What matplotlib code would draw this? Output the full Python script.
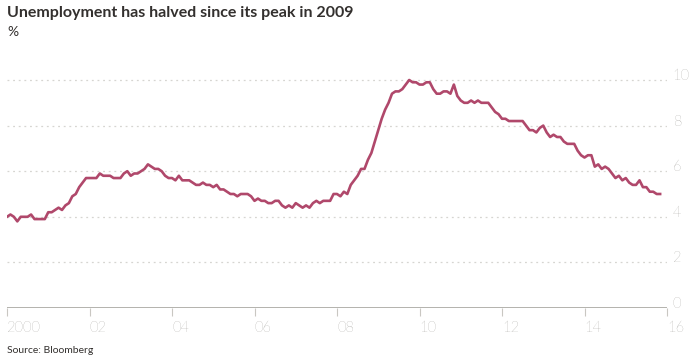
import numpy as np
import matplotlib.pyplot as plt

# US unemployment rate, monthly, Jan 2000 - Nov 2015 (%)
years = list(range(2000, 2016))
rate_by_year = {
    2000: [4.0, 4.1, 4.0, 3.8, 4.0, 4.0, 4.0, 4.1, 3.9, 3.9, 3.9, 3.9],
    2001: [4.2, 4.2, 4.3, 4.4, 4.3, 4.5, 4.6, 4.9, 5.0, 5.3, 5.5, 5.7],
    2002: [5.7, 5.7, 5.7, 5.9, 5.8, 5.8, 5.8, 5.7, 5.7, 5.7, 5.9, 6.0],
    2003: [5.8, 5.9, 5.9, 6.0, 6.1, 6.3, 6.2, 6.1, 6.1, 6.0, 5.8, 5.7],
    2004: [5.7, 5.6, 5.8, 5.6, 5.6, 5.6, 5.5, 5.4, 5.4, 5.5, 5.4, 5.4],
    2005: [5.3, 5.4, 5.2, 5.2, 5.1, 5.0, 5.0, 4.9, 5.0, 5.0, 5.0, 4.9],
    2006: [4.7, 4.8, 4.7, 4.7, 4.6, 4.6, 4.7, 4.7, 4.5, 4.4, 4.5, 4.4],
    2007: [4.6, 4.5, 4.4, 4.5, 4.4, 4.6, 4.7, 4.6, 4.7, 4.7, 4.7, 5.0],
    2008: [5.0, 4.9, 5.1, 5.0, 5.4, 5.6, 5.8, 6.1, 6.1, 6.5, 6.8, 7.3],
    2009: [7.8, 8.3, 8.7, 9.0, 9.4, 9.5, 9.5, 9.6, 9.8, 10.0, 9.9, 9.9],
    2010: [9.8, 9.8, 9.9, 9.9, 9.6, 9.4, 9.4, 9.5, 9.5, 9.4, 9.8, 9.3],
    2011: [9.1, 9.0, 9.0, 9.1, 9.0, 9.1, 9.0, 9.0, 9.0, 8.8, 8.6, 8.5],
    2012: [8.3, 8.3, 8.2, 8.2, 8.2, 8.2, 8.2, 8.0, 7.8, 7.8, 7.7, 7.9],
    2013: [8.0, 7.7, 7.5, 7.6, 7.5, 7.5, 7.3, 7.2, 7.2, 7.2, 6.9, 6.7],
    2014: [6.6, 6.7, 6.7, 6.2, 6.3, 6.1, 6.2, 6.1, 5.9, 5.7, 5.8, 5.6],
    2015: [5.7, 5.5, 5.4, 5.4, 5.6, 5.3, 5.3, 5.1, 5.1, 5.0, 5.0],
}
x_ticks = list(range(2000, 2017, 2))
x_labels = ['2000', '02', '04', '06', '08', '10', '12', '14', '16']
y_ticks = [0, 2, 4, 6, 8, 10]

dates = []
rates = []
for y in years:
    for m, v in enumerate(rate_by_year[y]):
        dates.append(y + m / 12)
        rates.append(v)

plt.rcParams['font.family'] = ['Lato', 'DejaVu Sans']
text_dark = '#33302e'
text_grey = '#7a7872'
line_col = '#b0486b'

fig = plt.figure(figsize=(6.9, 3.6), dpi=100)
ax = fig.add_axes([7 / 690, 52 / 360, 660 / 690, 239.4 / 360])

ax.plot(dates, rates, color=line_col, lw=1.9, solid_joinstyle='round')

ax.set_xlim(2000, 2016)
ax.set_ylim(0, 10.5)
ax.set_xticks(x_ticks)
ax.set_xticklabels(x_labels)
ax.set_yticks(y_ticks)
for t in y_ticks[1:]:
    ax.axhline(t, color='#d6d5d1', lw=0.9, ls=(0, (1.5, 3)), zorder=0)
ax.axhline(0, color='#a7a59f', lw=1.2, zorder=1)

for s in ax.spines.values():
    s.set_visible(False)
ax.yaxis.tick_right()
ax.tick_params(axis='y', length=0, pad=4, labelsize=10.5, labelcolor=text_grey)
ax.tick_params(axis='x', length=6, width=0.8, color='#c9c7c2', pad=3,
               labelsize=10.5, labelcolor=text_grey)
for lbl in ax.get_yticklabels():
    lbl.set_verticalalignment('baseline')
for lbl in ax.get_xticklabels():
    lbl.set_horizontalalignment('left')
for lbl in ax.get_xticklabels() + ax.get_yticklabels():
    lbl.set_fontweight('light')

fig.text(7 / 690, 1 - 17 / 360, 'Unemployment has halved since its peak in 2009',
         fontsize=11.5, fontweight='bold', color=text_dark)
fig.text(7 / 690, 1 - 36 / 360, '%', fontsize=10, color=text_dark)
fig.text(7 / 690, 1 - 353 / 360, 'Source: Bloomberg', fontsize=7.5, color=text_dark)

fig.savefig('out.png', dpi=100, facecolor='white')
